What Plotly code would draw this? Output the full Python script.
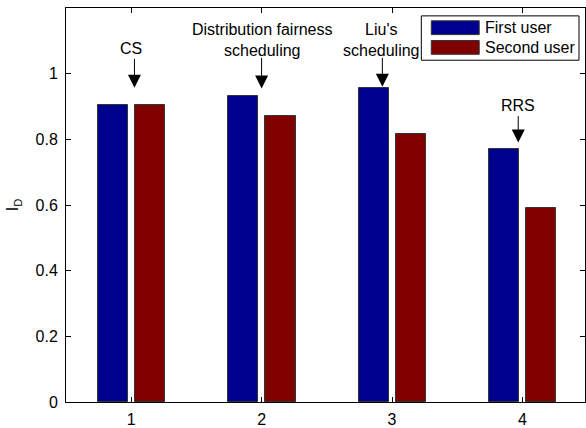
import plotly.graph_objects as go

groups = [1, 2, 3, 4]
first_user = [0.905, 0.932, 0.956, 0.770]
second_user = [0.905, 0.872, 0.816, 0.590]
series_names = ["First user", "Second user"]
colors = ["#00008F", "#800000"]
ytick_vals = [0, 0.2, 0.4, 0.6, 0.8, 1.0]
ytick_text = ["0", "0.2", "0.4", "0.6", "0.8", "1"]

# annotations: (text, text_x, text_y, arrow_x, arrow_tail_y, arrow_head_y)
labels = [
    ("CS", 1.0, 1.078, 1.025, 1.051, 0.957),
    ("Distribution fairness<br>scheduling", 2.01, 1.102, 2.0, 1.054, 0.955),
    ("Liu's<br>scheduling", 2.923, 1.102, 2.926, 1.054, 0.96),
    ("RRS", 3.963, 0.902, 3.968, 0.877, 0.79),
]

FONT = "Liberation Sans, Arial, Helvetica, sans-serif"
FS = 16

fig = go.Figure()
fig.add_trace(go.Bar(x=groups, y=first_user, name=series_names[0],
                     marker=dict(color=colors[0], line=dict(color="#333333", width=1)),
                     width=0.232, offset=-0.256, showlegend=False))
fig.add_trace(go.Bar(x=groups, y=second_user, name=series_names[1],
                     marker=dict(color=colors[1], line=dict(color="#333333", width=1)),
                     width=0.232, offset=0.029, showlegend=False))

annotations = []
for text, tx, ty, axx, tail, head in labels:
    annotations.append(dict(x=tx, y=ty, xref="x", yref="y", text=text, showarrow=False,
                            font=dict(size=FS, color="black", family=FONT),
                            xanchor="center", yanchor="middle"))
    annotations.append(dict(x=axx, y=head, ax=axx, ay=tail, xref="x", yref="y",
                            axref="x", ayref="y", text=" ", showarrow=True,
                            font=dict(size=1),
                            arrowhead=2, arrowsize=2.6, arrowwidth=1, arrowcolor="black"))

# legend (custom, MATLAB-style)
L, R, T, B = 66, 586, 8, 408
def px(x):
    return (x - L) / (R - L)
def py(y):
    return (B - y) / (B - T)

shapes = [
    dict(type="rect", xref="paper", yref="paper", x0=px(422), x1=px(580), y0=py(61), y1=py(16),
         line=dict(color="black", width=1), fillcolor="white", layer="above"),
    dict(type="rect", xref="paper", yref="paper", x0=px(432), x1=px(480), y0=py(35), y1=py(21),
         line=dict(color="#333333", width=1), fillcolor=colors[0], layer="above"),
    dict(type="rect", xref="paper", yref="paper", x0=px(432), x1=px(480), y0=py(55), y1=py(41),
         line=dict(color="#333333", width=1), fillcolor=colors[1], layer="above"),
]
for name, yc in zip(series_names, [28, 48]):
    annotations.append(dict(x=px(484), y=py(yc), xref="paper", yref="paper", text=name,
                            showarrow=False, xanchor="left", yanchor="middle",
                            font=dict(size=FS, color="black", family=FONT)))

fig.update_layout(
    width=586, height=428,
    margin=dict(l=L, r=586 - R, t=T, b=428 - B),
    paper_bgcolor="white", plot_bgcolor="white",
    font=dict(family=FONT, size=FS, color="black"),
    bargap=0, showlegend=False,
    annotations=annotations, shapes=shapes,
)
fig.update_xaxes(range=[0.5, 4.48], tickvals=groups, ticktext=[str(g) for g in groups],
                 ticks="inside", ticklen=5, tickcolor="black", showline=True, linecolor="black",
                 linewidth=1, mirror="ticks", showgrid=False, zeroline=False,
                 tickfont=dict(size=FS), ticklabelstandoff=3)
fig.update_yaxes(range=[0, 1.2], tickvals=ytick_vals, ticktext=ytick_text,
                 ticks="inside", ticklen=5, tickcolor="black", showline=True, linecolor="black",
                 linewidth=1, mirror="ticks", showgrid=False, zeroline=False,
                 tickfont=dict(size=FS), ticklabelstandoff=4,
                 title=dict(text="I<sub>D</sub>", font=dict(size=FS), standoff=12))

fig.write_html("out.html", config={"displayModeBar": False},
               post_script="document.body.style.margin='0';document.body.style.overflow='hidden';")
